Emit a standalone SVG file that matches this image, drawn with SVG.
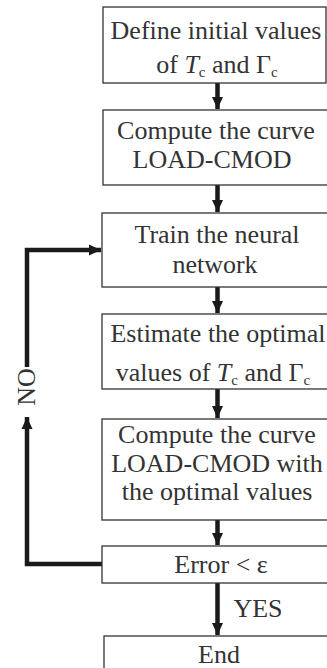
<svg xmlns="http://www.w3.org/2000/svg" width="327" height="668" viewBox="0 0 327 668">
<style>
.box{fill:#fff;stroke:#333;stroke-width:1.3}
.t{font-family:"Liberation Serif",serif;font-size:26px;fill:#333;text-anchor:middle}
.sub{font-size:15px}
.it{font-style:italic}
.ln{fill:none;stroke:#1a1a1a;stroke-width:4.5}
</style>
<defs>
<marker id="ah" markerUnits="userSpaceOnUse" markerWidth="14" markerHeight="14" viewBox="0 0 14 14" refX="12" refY="7" orient="auto">
<path d="M0,1.5 L12,7 L0,12.5 Z" fill="#1a1a1a"/>
</marker>
</defs>
<rect width="327" height="668" fill="#fff"/>
<g id="connectors">
<line class="ln" x1="217.5" y1="83" x2="217.5" y2="109" marker-end="url(#ah)"/>
<line class="ln" x1="217.5" y1="185" x2="217.5" y2="212" marker-end="url(#ah)"/>
<line class="ln" x1="217.5" y1="287" x2="217.5" y2="313" marker-end="url(#ah)"/>
<line class="ln" x1="217.5" y1="389" x2="217.5" y2="418" marker-end="url(#ah)"/>
<line class="ln" x1="217.5" y1="520" x2="217.5" y2="545" marker-end="url(#ah)"/>
<line class="ln" x1="217.5" y1="583" x2="217.5" y2="635" marker-end="url(#ah)"/>
<polyline class="ln" points="102,564 27,564 27,417" marker-end="url(#ah)"/>
<polyline class="ln" points="27,367 27,250 101,250" marker-end="url(#ah)"/>
<text class="t" transform="translate(35,387) rotate(-90)">NO</text>
<text class="t" x="258" y="617">YES</text>
</g>
<g id="n1">
<rect class="box" x="103" y="7" width="223" height="76"/>
<text class="t" x="216" y="39">Define initial values</text>
<text class="t" x="217" y="73">of <tspan class="it">T</tspan><tspan class="sub" dy="4">c</tspan><tspan dy="-4"> and Γ</tspan><tspan class="sub" dy="4">c</tspan></text>
</g>
<g id="n2">
<rect class="box" x="103" y="110" width="230" height="75"/>
<text class="t" x="216" y="139">Compute the curve</text>
<text class="t" x="212" y="168">LOAD-CMOD</text>
</g>
<g id="n3">
<rect class="box" x="102" y="213" width="231" height="74"/>
<text class="t" x="217" y="243">Train the neural</text>
<text class="t" x="215" y="273">network</text>
</g>
<g id="n4">
<rect class="box" x="102" y="314" width="231" height="75"/>
<text class="t" x="218" y="342">Estimate the optimal</text>
<text class="t" x="213" y="381">values of <tspan class="it">T</tspan><tspan class="sub" dy="4">c</tspan><tspan dy="-4"> and Γ</tspan><tspan class="sub" dy="4">c</tspan></text>
</g>
<g id="n5">
<rect class="box" x="102" y="419" width="231" height="101"/>
<text class="t" x="217" y="443">Compute the curve</text>
<text class="t" x="217" y="472">LOAD-CMOD with</text>
<text class="t" x="217" y="500">the optimal values</text>
</g>
<g id="n6">
<rect class="box" x="102" y="546" width="231" height="37"/>
<text class="t" x="221" y="573">Error &lt; ε</text>
</g>
<g id="n7">
<rect class="box" x="104" y="636" width="229" height="40"/>
<text class="t" x="219" y="663">End</text>
</g>
</svg>
